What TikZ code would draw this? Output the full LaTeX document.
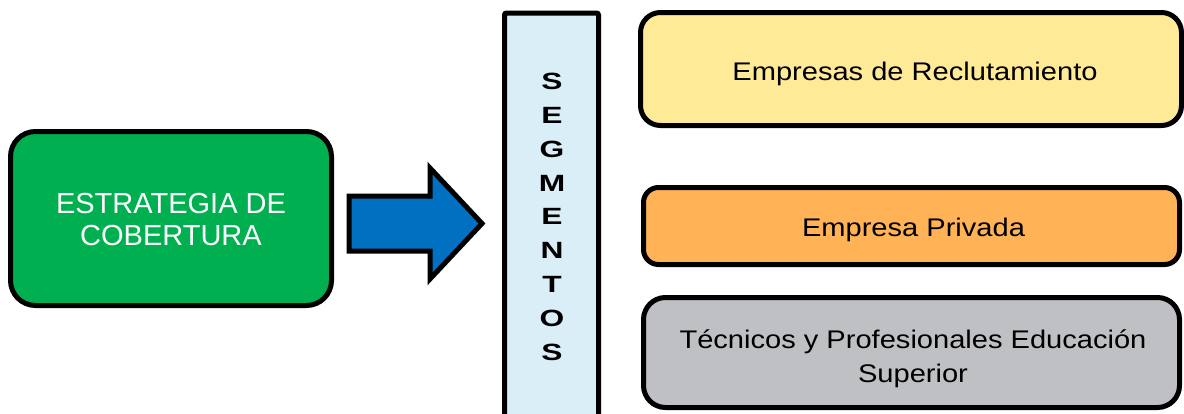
\documentclass[tikz,border=0pt]{standalone}
\usepackage{fontspec}
\setmainfont{Liberation Sans}
\newfontfamily\cardfont{Liberation Sans}[FakeStretch=1.14]
\newfontfamily\segfont{Liberation Sans}[FakeStretch=1.35]
\definecolor{boxgreen}{HTML}{00B050}
\definecolor{arrowblue}{HTML}{0070C0}
\definecolor{segblue}{HTML}{DAEEF8}
\definecolor{boxyellow}{HTML}{FFEA98}
\definecolor{boxorange}{HTML}{FFB356}
\definecolor{boxgray}{HTML}{BFC0C4}
\begin{document}
\begin{tikzpicture}[x=1pt,y=-1pt,
  card/.style={draw=black, line width=5pt, rectangle, inner sep=0pt},
  % text nodes are placed by the baseline of their last line
  cardtext/.style={anchor=base, inner sep=0pt, align=center,
    font=\cardfont\fontsize{25.5}{34.4}\selectfont},
  titletext/.style={anchor=base, inner sep=0pt, align=center, text=white,
    font=\fontsize{29}{32}\selectfont},
  segtext/.style={anchor=base, inner sep=0pt, align=center,
    font=\segfont\bfseries\fontsize{23.5}{33.9}\selectfont}]
\useasboundingbox (0,0) rectangle (1184,413);
\begin{scope}
\clip (0,0) rectangle (1184,413);
% left block
\node[card, fill=boxgreen, rounded corners=25pt,
  minimum width=321pt, minimum height=174pt] (estr) at (171,218.5) {};
\node[titletext] (estrt) at (171,245) {ESTRATEGIA DE\\COBERTURA};
% block arrow
\draw[line width=5pt, fill=arrowblue, line join=miter]
  (349,196) -- (430,196) -- (430,168) -- (482,223.5) -- (430,279)
  -- (430,251) -- (349,251) -- cycle;
% vertical segments bar
\node[card, fill=segblue, rounded corners=2pt,
  minimum width=94pt, minimum height=410pt] (seg) at (551.5,218) {};
\node[segtext] (segt) at (552,360.5) {S\\E\\G\\M\\E\\N\\T\\O\\S};
% segment cards
\node[card, fill=boxyellow, rounded corners=20pt,
  minimum width=541pt, minimum height=113pt] (recl) at (911,69) {};
\node[cardtext] (reclt) at (915,80) {Empresas de Reclutamiento};
\node[card, fill=boxorange, rounded corners=15pt,
  minimum width=536pt, minimum height=77pt] (priv) at (911.5,226) {};
\node[cardtext] (privt) at (913.5,236.7) {Empresa Privada};
\node[card, fill=boxgray, rounded corners=22pt,
  minimum width=536pt, minimum height=110pt] (tec) at (911.5,352.5) {};
\node[cardtext] (tect) at (913,382.7) {Técnicos y Profesionales Educación\\Superior};
\end{scope}
\end{tikzpicture}
\end{document}
